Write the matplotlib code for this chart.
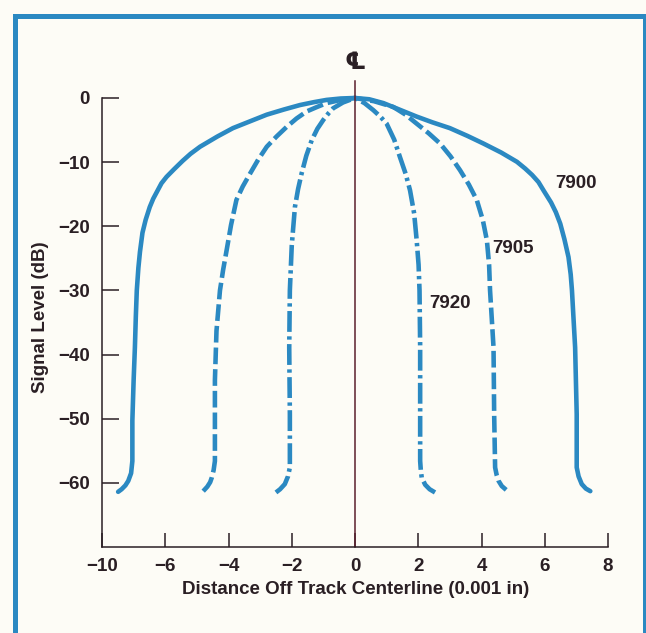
import matplotlib
matplotlib.use("Agg")
import matplotlib.pyplot as plt
from matplotlib.patches import Rectangle

plt.rcParams['font.family'] = ['Liberation Sans', 'DejaVu Sans']
plt.rcParams['font.weight'] = 'bold'
plt.rcParams['lines.scale_dashes'] = False

# curves, left end -> peak -> right end
x_7900 = [-7.49, -7.38, -7.26, -7.17, -7.08, -7.04, -7.04, -7.00, -6.96, -6.93, -6.90, -6.85,
          -6.80, -6.72, -6.62, -6.49, -6.38, -6.25, -6.12, -5.96, -5.72, -5.45, -5.20, -4.90,
          -4.35, -3.86, -3.30, -2.79, -2.25, -1.74, -1.30, -0.90, -0.45, 0.0,
          0.45, 0.90, 1.40, 1.95, 2.45, 3.00, 3.55, 4.06, 4.62, 5.12, 5.38, 5.60, 5.80, 5.96,
          6.20, 6.35, 6.49, 6.62, 6.75, 6.82, 6.86, 6.96, 7.01, 7.01, 7.07, 7.17, 7.30, 7.44]
y_7900 = [-61.4, -61.0, -60.4, -59.7, -58.5, -56.6, -50.3, -44.0, -38.9, -34.0, -30.0, -26.5,
          -24.0, -21.0, -19.0, -17.0, -15.7, -14.5, -13.3, -12.3, -11.1, -9.8, -8.7, -7.6,
          -6.0, -4.7, -3.6, -2.6, -1.8, -1.1, -0.65, -0.3, -0.08, 0.0,
          -0.2, -0.8, -1.8, -2.9, -3.8, -4.7, -5.9, -7.1, -8.5, -9.95, -11.0, -12.0, -13.1, -14.4,
          -16.3, -17.8, -19.6, -22.0, -24.8, -27.5, -30.0, -38.9, -49.3, -57.6, -59.0, -60.2, -60.9, -61.3]

x_7905 = [-4.80, -4.67, -4.58, -4.53, -4.47, -4.43, -4.43, -4.38, -4.27, -4.17, -4.06, -3.92,
          -3.75, -3.55, -3.32, -3.06, -2.79, -2.48, -2.16, -1.85, -1.53, -1.20, -0.90, -0.45, 0.0,
          0.60, 1.21, 1.60, 1.95, 2.33, 2.69, 3.02, 3.32, 3.60, 3.85, 4.04, 4.17, 4.24, 4.27,
          4.38, 4.40, 4.43, 4.48, 4.54, 4.64, 4.78]
y_7905 = [-61.3, -60.6, -59.9, -59.2, -58.0, -56.6, -44.0, -36.3, -30.0, -26.8, -23.75, -19.8,
          -15.9, -13.8, -11.8, -9.6, -7.6, -6.0, -4.5, -3.2, -2.1, -1.4, -0.8, -0.3, 0.0,
          -0.5, -1.4, -2.6, -4.0, -5.5, -7.1, -9.1, -11.25, -13.5, -15.9, -19.0, -22.2, -26.0, -30.0,
          -38.9, -49.3, -57.6, -58.8, -59.7, -60.5, -61.1]

x_7920 = [-2.50, -2.37, -2.22, -2.12, -2.06, -2.06, -2.08, -2.06, -2.00, -1.90, -1.80, -1.69,
          -1.54, -1.37, -1.19, -1.00, -0.84, -0.69, -0.38, 0.0,
          0.30, 0.58, 0.80, 1.00, 1.24, 1.42, 1.60, 1.74, 1.87, 1.95, 2.01, 2.04, 2.06, 2.06,
          2.06, 2.08, 2.11, 2.22, 2.36, 2.53]
y_7920 = [-61.5, -61.0, -60.2, -59.0, -57.6, -49.3, -38.9, -30.0, -23.0, -17.0, -14.2, -11.8,
          -9.0, -6.6, -4.8, -3.4, -2.4, -1.6, -0.7, 0.0,
          -0.8, -1.9, -2.9, -4.0, -6.5, -9.2, -11.8, -14.4, -18.0, -22.2, -26.0, -30.0, -38.9, -49.3,
          -56.6, -58.0, -59.2, -60.3, -61.0, -61.5]

x_ticks = [-8, -6, -4, -2, 0, 2, 4, 6, 8]
x_tick_labels = ['\u221210', '\u22126', '\u22124', '\u22122', '0', '2', '4', '6', '8']
y_ticks = [0, -10, -20, -30, -40, -50, -60]
y_tick_labels = ['0', '\u221210', '\u221220', '\u221230', '\u221240', '\u221250', '\u221260']

blue = '#2b89c2'
ink = '#2a1f24'
bg = '#fdfcf6'

fig = plt.figure(figsize=(6.46, 6.33), dpi=100, facecolor=bg)
ax = fig.add_axes([0.1579, 0.1359, 0.7833, 0.7093], facecolor=bg)

# outer blue frame
fig.add_artist(Rectangle((14.5 / 646, -0.02), (644.5 - 14.5) / 646, 1 - 15.5 / 633 + 0.02,
                         transform=fig.transFigure, fill=False, edgecolor=blue, lw=3.6))

ax.plot(x_7900, y_7900, color=blue, lw=3.3, solid_capstyle='round', solid_joinstyle='round',
        clip_on=False)
ax.plot(x_7905, y_7905, color=blue, lw=3.3, linestyle=(0, (12, 3.6)), dash_joinstyle='round',
        clip_on=False)
ax.plot(x_7920, y_7920, color=blue, lw=3.3, linestyle=(0, (15, 3.2, 2.4, 3.2)),
        dash_joinstyle='round', clip_on=False)

# track centerline
ax.plot([0, 0], [-70, 2.7], color='#5a1f2c', lw=1.1, clip_on=False)
ax.text(0, 5.6, '\u2104', ha='center', va='center', fontsize=17, color=ink,
        family=['DejaVu Sans'])

ax.text(6.98, -13.3, '7900', ha='center', va='center', fontsize=13.5, color=ink)
ax.text(4.98, -23.4, '7905', ha='center', va='center', fontsize=13.5, color=ink)
ax.text(3.0, -32.0, '7920', ha='center', va='center', fontsize=13.5, color=ink)

ax.set_xlim(-8, 8)
ax.set_ylim(-70, 0)
ax.set_xticks(x_ticks)
ax.set_xticklabels(x_tick_labels)
ax.set_yticks(y_ticks)
ax.set_yticklabels(y_tick_labels)
ax.tick_params(axis='x', direction='in', length=10, width=1.1, color=ink, pad=8,
               labelsize=13.5, labelcolor=ink)
ax.tick_params(axis='y', direction='in', length=12, width=1.1, color=ink, pad=9,
               labelsize=13.5, labelcolor=ink)
for side in ['top', 'right']:
    ax.spines[side].set_visible(False)
for side in ['left', 'bottom']:
    ax.spines[side].set_color(ink)
    ax.spines[side].set_linewidth(1.1)

fig.text(0.551, 0.068, 'Distance Off Track Centerline (0.001 in)', ha='center', va='center',
         fontsize=13.5, color=ink)
fig.text(0.062, 0.499, 'Signal Level (dB)', ha='center', va='center', rotation=90,
         fontsize=13.5, color=ink)

fig.savefig('out.png', dpi=100, facecolor=bg)
